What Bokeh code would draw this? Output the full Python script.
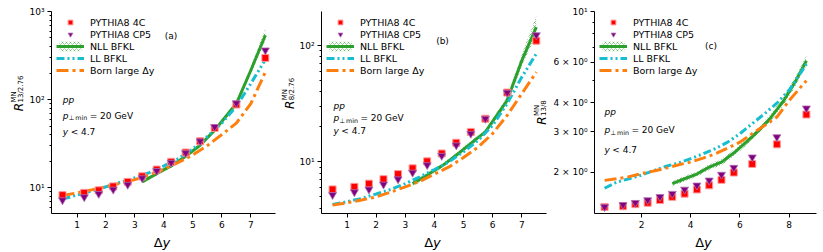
import math
from bokeh.plotting import figure
from bokeh.layouts import row, column
from bokeh.models import Range1d, FixedTicker, Legend, LegendItem, Label
from bokeh.embed import file_html
from bokeh.resources import INLINE

FONT = "DejaVu Sans"
RED = "#ff0000"
PURPLE = "#800080"
GREEN = "#2ca02c"
CYAN = "#17becf"
ORANGE = "#ff7f0e"

# ---------------- data ----------------
x_pts = [0.5, 1.25, 1.75, 2.25, 2.75, 3.25, 3.75, 4.25, 4.75, 5.25, 5.75, 6.5, 7.5]
x_pts_c = [0.5, 1.25, 1.75, 2.25, 2.75, 3.25, 3.75, 4.25, 4.75, 5.25, 5.75, 6.5, 7.5, 8.7]
x_th = [0.5, 1.0, 1.5, 2.0, 2.5, 3.0, 3.5, 4.0, 4.5, 5.0, 5.5, 6.0, 6.5, 7.0, 7.5]
x_th_c = [0.5, 1.0, 1.5, 2.0, 2.5, 3.0, 3.5, 4.0, 4.5, 5.0, 5.5, 6.0, 6.5, 7.0, 7.5, 8.0, 8.7]
x_nll = [3.25, 3.75, 4.25, 4.75, 5.25, 5.75, 6.5, 7.0, 7.5]
x_nll_c = [3.25, 3.75, 4.25, 4.75, 5.25, 5.75, 6.25, 6.75, 7.25, 7.75, 8.25, 8.7]

# panel (a): R 13/2.76
a_4c = [8.2, 8.7, 9.3, 10.3, 11.6, 13.4, 16.0, 19.6, 25.0, 33.6, 47.5, 87.7, 297]
a_cp5 = [7.2, 7.8, 8.5, 9.5, 10.8, 12.8, 15.5, 19.2, 24.7, 33.6, 48.9, 91, 363]
a_nll = [11.6, 14.4, 17.6, 22.7, 30.2, 44.8, 90, 215, 537]
a_nll_lo = [11.1, 13.8, 16.9, 21.8, 29.0, 42.5, 85, 195, 470]
a_nll_hi = [12.1, 15.0, 18.4, 23.7, 31.6, 47.2, 96, 240, 640]
a_ll = [7.4, 8.2, 9.1, 10.2, 11.5, 12.9, 14.8, 17.6, 21.3, 27.5, 38, 54, 84, 152, 285]
a_born = [8.1, 8.7, 9.4, 10.2, 11.2, 12.3, 13.9, 16.2, 19.3, 23.5, 30, 40, 54, 90, 205]

# panel (b): R 8/2.76
b_4c = [5.8, 6.1, 6.5, 7.1, 7.85, 8.8, 10.1, 11.8, 14.6, 18.1, 23.5, 39.4, 110]
b_cp5 = [5.2, 5.5, 5.8, 6.4, 7.1, 8.1, 9.4, 11.3, 13.9, 17.5, 23.5, 39.4, 123]
b_nll = [6.5, 7.7, 9.2, 11.4, 14.4, 18.1, 33.8, 74, 144]
b_nll_lo = [6.2, 7.35, 8.8, 10.9, 13.7, 17.2, 31.5, 66, 125]
b_nll_hi = [6.8, 8.05, 9.6, 11.9, 15.1, 19.0, 36.5, 84, 180]
b_ll = [4.3, 4.55, 4.85, 5.3, 5.8, 6.5, 7.45, 8.6, 10.0, 12.2, 15.3, 20.6, 31.7, 53.5, 85]
b_born = [4.25, 4.45, 4.7, 5.0, 5.5, 6.1, 6.8, 7.85, 9.05, 10.9, 13.4, 17.5, 25.1, 38.5, 59]

# panel (c): R 13/8
c_4c = [1.41, 1.42, 1.45, 1.47, 1.51, 1.56, 1.61, 1.68, 1.75, 1.85, 1.99, 2.17, 2.64, 3.56]
c_cp5 = [1.41, 1.44, 1.47, 1.51, 1.56, 1.61, 1.68, 1.75, 1.84, 1.95, 2.09, 2.32, 2.84, 3.79]
c_nll = [1.78, 1.87, 1.96, 2.10, 2.21, 2.42, 2.70, 3.02, 3.45, 4.05, 4.95, 6.1]
c_nll_lo = [1.73, 1.82, 1.91, 2.04, 2.14, 2.34, 2.61, 2.92, 3.33, 3.88, 4.72, 5.8]
c_nll_hi = [1.83, 1.92, 2.01, 2.16, 2.28, 2.50, 2.79, 3.13, 3.58, 4.22, 5.2, 6.45]
c_ll = [1.70, 1.81, 1.87, 1.94, 2.03, 2.12, 2.19, 2.29, 2.40, 2.53, 2.70, 2.94, 3.25, 3.59, 3.99, 4.55, 5.9]
c_born = [1.84, 1.87, 1.91, 1.97, 2.02, 2.08, 2.15, 2.21, 2.30, 2.40, 2.54, 2.70, 2.94, 3.19, 3.47, 4.1, 5.0]

# ticks
a_xticks = [1, 2, 3, 4, 5, 6, 7]
c_xticks = [2, 4, 6, 8]
a_yticks = [10, 100, 1000]
a_ylabels = ["10¹", "10²", "10³"]
a_yminor = [6, 7, 8, 9, 20, 30, 40, 50, 60, 70, 80, 90, 200, 300, 400, 500, 600, 700, 800, 900]
b_yticks = [10, 100]
b_ylabels = ["10¹", "10²"]
b_yminor = [4, 5, 6, 7, 8, 9, 20, 30, 40, 50, 60, 70, 80, 90]
c_yticks = [2, 3, 4, 6, 10]
c_ylabels = ["2 × 10⁰", "3 × 10⁰", "4 × 10⁰", "6 × 10⁰", "10¹"]
c_yminor = [5, 7, 8, 9]

legend_labels = ["PYTHIA8 4C", "PYTHIA8 CP5", "NLL BFKL", "LL BFKL", "Born large Δy"]

# ---------------- helpers ----------------
WID = {' ': 0.318, '0': 0.636, '1': 0.636, '2': 0.636, '3': 0.636, '4': 0.636, '5': 0.636,
       '6': 0.636, '7': 0.636, '8': 0.636, '9': 0.636, '.': 0.318, '/': 0.337, '=': 0.838,
       '<': 0.838, 'R': 0.695, 'M': 0.863, 'N': 0.748, 'p': 0.635, 'y': 0.592, 'm': 0.974,
       'i': 0.278, 'n': 0.634, 'Δ': 0.684, '⊥': 0.838, 'G': 0.775, 'e': 0.615, 'V': 0.684}


def tw(s, size):
    return sum(WID.get(ch, 0.6) for ch in s) * size


ROW_H = 232      # height of the panel row (page y 0..232)
STRIP_H = 20     # strip for the x-axis titles (page y 232..252)
FTOP = 11        # frame top (page y)
FBOT = 213       # frame bottom (page y)


def put(p, fr, s, px, py, size, style="normal", align="left", angle=0.0):
    fl, fb = fr
    p.add_layout(Label(x=px - fl, y=fb - py, x_units="screen", y_units="screen", text=s,
                       text_font=FONT, text_font_size=f"{size}px", text_font_style=style,
                       text_align=align, text_baseline="alphabetic", angle=angle,
                       text_color="black"))


def strip(width, height):
    s = figure(width=width, height=height, x_range=Range1d(0, 1), y_range=Range1d(0, 1),
               output_backend="svg", toolbar_location=None, min_border=0,
               min_border_left=0, min_border_right=0, min_border_top=0, min_border_bottom=0,
               x_axis_location=None, y_axis_location=None, title=None)
    s.outline_line_color = None
    s.background_fill_color = "white"
    s.border_fill_color = "white"
    for g in list(s.center):
        g.visible = False
    s.xgrid.grid_line_color = None
    s.ygrid.grid_line_color = None
    return s


def make_panel(x0, width, bl, br, xr, yr, xticks, yticks, ylabels, yminor):
    p = figure(width=width, height=ROW_H, x_range=Range1d(*xr), y_range=Range1d(*yr),
               y_axis_type="log", output_backend="svg", toolbar_location=None,
               min_border_left=bl, min_border_right=br, min_border_top=FTOP,
               min_border_bottom=ROW_H - FBOT, title=None)
    p.outline_line_color = None
    p.grid.visible = False
    p.background_fill_color = "white"
    p.border_fill_color = "white"
    p.xaxis.ticker = FixedTicker(ticks=xticks, minor_ticks=[])
    p.yaxis.ticker = FixedTicker(ticks=yticks, minor_ticks=yminor)
    p.yaxis.major_label_overrides = {float(t): l for t, l in zip(yticks, ylabels)}
    for ax in (p.xaxis[0], p.yaxis[0]):
        ax.axis_line_color = "black"
        ax.axis_line_width = 1
        ax.major_tick_line_color = "black"
        ax.minor_tick_line_color = "black"
        ax.major_tick_out = 4
        ax.major_tick_in = 0
        ax.minor_tick_out = 2
        ax.minor_tick_in = 0
        ax.major_label_standoff = 3
        ax.major_label_text_font = FONT
        ax.major_label_text_font_size = "9px"
        ax.major_label_text_color = "black"
    p.xaxis.minor_tick_line_color = None
    frame = (x0 + bl, FBOT)
    fcx = x0 + bl + (width - bl - br) / 2
    return p, frame, fcx


def draw(p, xp, v4c, vcp5, xn, nll, lo, hi, xt, ll, born):
    band = p.varea(x=xn, y1=lo, y2=hi, fill_color=GREEN, fill_alpha=0.0,
                   hatch_pattern="x", hatch_color=GREEN, hatch_scale=4, hatch_weight=0.6,
                   hatch_alpha=0.8)
    rn = p.line(xn, nll, line_color=GREEN, line_width=3)
    rl = p.line(xt, ll, line_color=CYAN, line_width=3, line_dash="8 3 2 3 2 3")
    rb = p.line(xt, born, line_color=ORANGE, line_width=3, line_dash="12 4 3 4")
    r1 = p.scatter(xp, v4c, marker="square", size=7, fill_color=RED, line_color="#ff9a9a",
                   line_width=1)
    r2 = p.scatter(xp, vcp5, marker="inverted_triangle", size=8, fill_color=PURPLE,
                   line_color="#b070b0", line_width=0.8)
    items = [LegendItem(label=legend_labels[0], renderers=[r1]),
             LegendItem(label=legend_labels[1], renderers=[r2]),
             LegendItem(label=legend_labels[2], renderers=[band, rn]),
             LegendItem(label=legend_labels[3], renderers=[rl]),
             LegendItem(label=legend_labels[4], renderers=[rb])]
    lg = Legend(items=items, location="top_left", margin=5, padding=0, spacing=0,
                glyph_width=28, glyph_height=12, label_height=12, label_standoff=6,
                label_text_font=FONT, label_text_font_size="9.5px",
                label_text_color="black", border_line_alpha=0, background_fill_alpha=0)
    p.add_layout(lg)


def ylabel(p, fr, xbase, ycenter, sub):
    wR = tw("R", 12)
    L = wR + 0.5 + max(tw("MN", 7), tw(sub, 7))
    y0 = ycenter + L / 2
    put(p, fr, "R", xbase, y0, 12, "italic", angle=math.pi / 2)
    put(p, fr, "MN", xbase - 4.5, y0 - wR - 0.5, 7, angle=math.pi / 2)
    put(p, fr, sub, xbase + 2.5, y0 - wR - 0.5, 7, angle=math.pi / 2)


def xlabel(p, fr, cx, base):
    w = tw("Δ", 13) + tw("y", 13)
    x = cx - w / 2
    put(p, fr, "Δ", x, base, 13)
    put(p, fr, "y", x + tw("Δ", 13), base, 13, "italic")


def notes(p, fr, x, b1, b2, b3, tag, tagx, tagy):
    S = 9
    put(p, fr, "pp", x, b1, S, "italic")
    put(p, fr, "p", x, b2, S, "italic")
    xs = x + tw("p", S) + 0.3
    put(p, fr, "⊥", xs, b2 + 2.2, 6.3)
    xs += tw("⊥", 6.3) + 1.2
    put(p, fr, "min", xs, b2 + 2.2, 6.3)
    xs += tw("min", 6.3) + 2.5
    put(p, fr, "= 20 GeV", xs, b2, S)
    put(p, fr, "y", x, b3, S, "italic")
    put(p, fr, "< 4.7", x + tw("y", S) + 2.5, b3, S)
    put(p, fr, tag, tagx, tagy, 9, align="center")


# ---------------- layout pieces (page x) ----------------
# strip_ya: 0..26 | A: 26..278 | strip_yb: 278..296 | B: 296..550 | C: 550..823
sya = strip(26, ROW_H)
syb = strip(18, ROW_H)
sx = strip(823, STRIP_H)
fr_sya = (0, ROW_H)
fr_syb = (278, ROW_H)
fr_sx = (0, ROW_H + STRIP_H)

pa, fa, ca = make_panel(26, 252, 22, 3, (0.12, 7.85), (5.07, 1000), a_xticks,
                        a_yticks, a_ylabels, a_yminor)
pb, fb_, cb = make_panel(296, 254, 22, 4, (0.12, 7.85), (3.6, 196), a_xticks,
                         b_yticks, b_ylabels, b_yminor)
pc, fc, cc = make_panel(550, 273, 40, 7, (0.09, 9.11), (1.32, 10), c_xticks,
                        c_yticks, c_ylabels, c_yminor)

draw(pa, x_pts, a_4c, a_cp5, x_nll, a_nll, a_nll_lo, a_nll_hi, x_th, a_ll, a_born)
draw(pb, x_pts, b_4c, b_cp5, x_nll, b_nll, b_nll_lo, b_nll_hi, x_th, b_ll, b_born)
draw(pc, x_pts_c, c_4c, c_cp5, x_nll_c, c_nll, c_nll_lo, c_nll_hi, x_th_c, c_ll, c_born)

ylabel(sya, fr_sya, 18, 112, "13/2.76")
ylabel(syb, fr_syb, 289, 112, "8/2.76")
ylabel(pb, fb_, 538, 112, "13/8")   # panel (c) title sits in the gap, drawn on panel (b)

xlabel(sx, fr_sx, ca, 241.5)
xlabel(sx, fr_sx, cb, 241.5)
xlabel(sx, fr_sx, cc, 241.5)

notes(pa, fa, 59.3, 99, 115, 131, "(a)", 167.5, 35.5)
notes(pb, fb_, 330, 105.5, 117.5, 130, "(b)", 439, 40.5)
notes(pc, fc, 600, 111, 129.5, 149, "(c)", 706.5, 45.5)

layout = column(row(sya, pa, syb, pb, pc), sx)
open("out.html", "w").write(file_html(layout, INLINE))
